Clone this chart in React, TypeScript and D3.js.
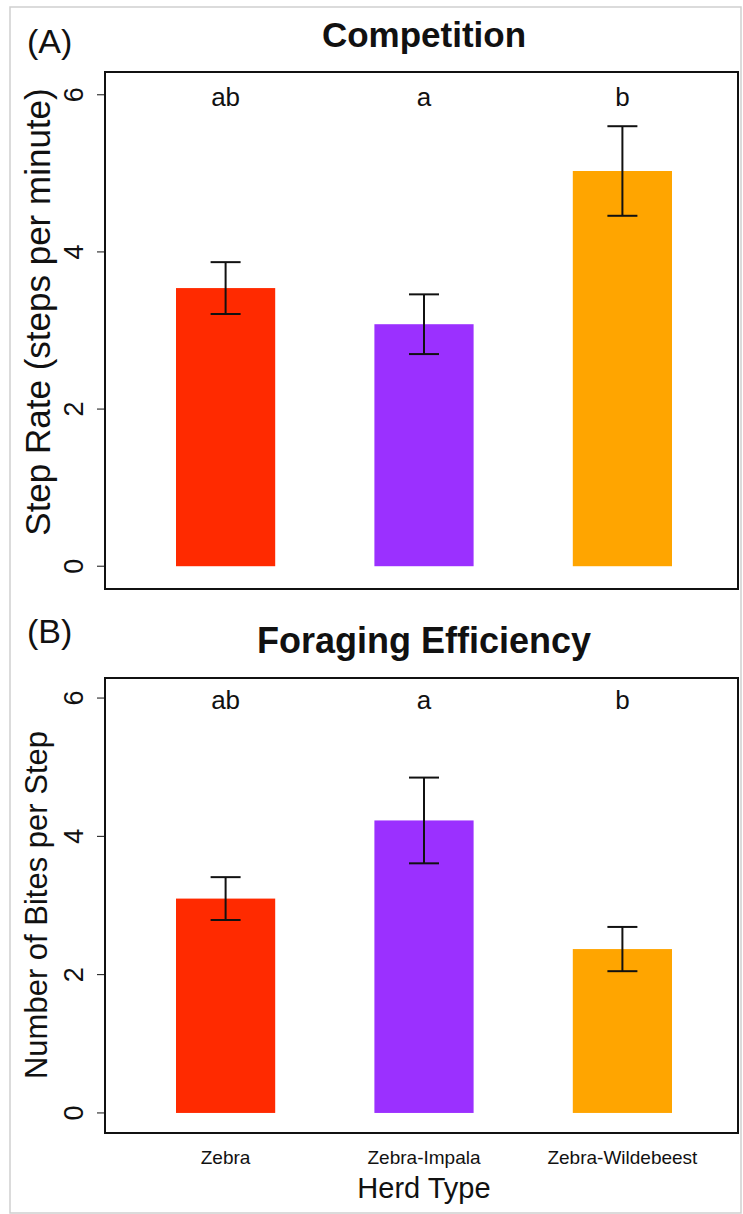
import { useMemo } from "react";
import * as d3 from "d3";

const categories = ["Zebra", "Zebra-Impala", "Zebra-Wildebeest"];
const colors = ["#FF2A00", "#9B30FF", "#FFA500"];
const yTicks = [0, 2, 4, 6];

const stepRate = [3.54, 3.08, 5.03];
const stepRateErr = [0.33, 0.38, 0.57];
const stepLetters = ["ab", "a", "b"];

const bitesPerStep = [3.1, 4.23, 2.37];
const bitesErr = [0.31, 0.62, 0.32];
const biteLetters = ["ab", "a", "b"];

const W = 743;
const H = 1214;
const boxL = 105;
const boxR = 738;
const font = "'Liberation Sans', Arial, Helvetica, sans-serif";

interface PanelProps {
  tag: string;
  tagOffset: number;
  title: string;
  titleSize: number;
  yLabel: string;
  yLabelSize: number;
  yLabelX: number;
  yLabelY: number;
  values: number[];
  errs: number[];
  letters: string[];
  top: number;
  bottom: number;
  showX?: boolean;
}

function Panel(p: PanelProps) {
  const { values, errs, letters, top, bottom } = p;
  const x = useMemo(
    () =>
      d3
        .scaleBand<string>()
        .domain(categories)
        .range([126.4, 721.6])
        .paddingInner(0.5)
        .paddingOuter(0.25),
    []
  );
  // R-style expansion around 0..6
  const y = useMemo(() => d3.scaleLinear().domain([-0.29, 6.29]).range([bottom, top]), [top, bottom]);
  const capW = 30;
  const mid = (c: string) => (x(c) ?? 0) + x.bandwidth() / 2;

  return (
    <g fontFamily={font} fill="#111">
      <text x={27} y={top - p.tagOffset} fontSize={34}>
        {p.tag}
      </text>
      <text x={424} y={top - 25} fontSize={p.titleSize} fontWeight="bold" textAnchor="middle">
        {p.title}
      </text>

      {categories.map((c, i) => (
        <rect
          key={c}
          x={x(c)}
          y={y(values[i])}
          width={x.bandwidth()}
          height={y(0) - y(values[i])}
          fill={colors[i]}
        />
      ))}

      {categories.map((c, i) => {
        const cx = mid(c);
        const hi = y(values[i] + errs[i]);
        const lo = y(values[i] - errs[i]);
        return (
          <g key={c} stroke="#111" strokeWidth={2}>
            <line x1={cx} x2={cx} y1={hi} y2={lo} />
            <line x1={cx - capW / 2} x2={cx + capW / 2} y1={hi} y2={hi} />
            <line x1={cx - capW / 2} x2={cx + capW / 2} y1={lo} y2={lo} />
          </g>
        );
      })}

      {categories.map((c, i) => (
        <text key={c} x={mid(c)} y={y(6) + 11} fontSize={26} textAnchor="middle">
          {letters[i]}
        </text>
      ))}

      <rect x={boxL} y={top} width={boxR - boxL} height={bottom - top} fill="none" stroke="#111" strokeWidth={2} />

      {yTicks.map((t) => (
        <g key={t}>
          <line x1={boxL - 8} x2={boxL} y1={y(t)} y2={y(t)} stroke="#111" strokeWidth={1} />
          <text transform={`translate(${83},${y(t)}) rotate(-90)`} fontSize={27} textAnchor="middle">
            {t}
          </text>
        </g>
      ))}

      <text
        transform={`translate(${p.yLabelX},${p.yLabelY}) rotate(-90)`}
        fontSize={p.yLabelSize}
        textAnchor="middle"
      >
        {p.yLabel}
      </text>

      {p.showX && (
        <>
          {categories.map((c) => (
            <text key={c} x={mid(c)} y={bottom + 31} fontSize={19} textAnchor="middle">
              {c}
            </text>
          ))}
          <text x={424} y={bottom + 65} fontSize={29} textAnchor="middle">
            Herd Type
          </text>
        </>
      )}
    </g>
  );
}

export default function App() {
  return (
    <div style={{ position: "absolute", left: 0, top: 0 }}>
      <svg width={W} height={H} viewBox={`0 0 ${W} ${H}`} style={{ display: "block", background: "#fff" }}>
        <rect x={10} y={7} width={W - 12} height={H - 8} fill="none" stroke="#cfcfcf" strokeWidth={1.5} />
        <Panel
          tag="(A)"
          tagOffset={19}
          title="Competition"
          titleSize={35}
          yLabel="Step Rate (steps per minute)"
          yLabelSize={35}
          yLabelX={50}
          yLabelY={312}
          values={stepRate}
          errs={stepRateErr}
          letters={stepLetters}
          top={72}
          bottom={589}
        />
        <Panel
          tag="(B)"
          tagOffset={35}
          title="Foraging Efficiency"
          titleSize={36}
          yLabel="Number of Bites per Step"
          yLabelSize={31}
          yLabelX={47}
          yLabelY={905}
          values={bitesPerStep}
          errs={bitesErr}
          letters={biteLetters}
          top={678}
          bottom={1133}
          showX
        />
      </svg>
    </div>
  );
}
